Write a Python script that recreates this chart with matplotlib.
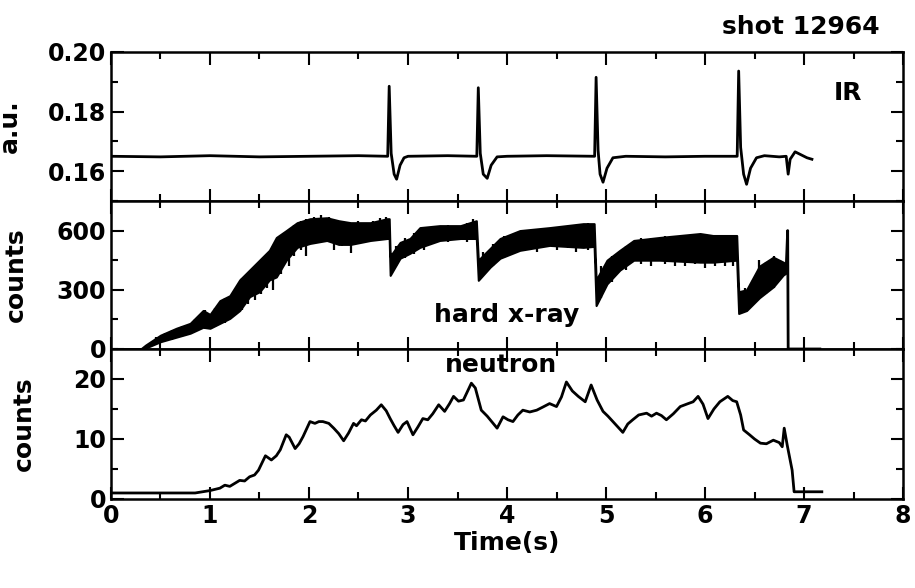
import numpy as np
import matplotlib
matplotlib.use("Agg")
import matplotlib.pyplot as plt
from matplotlib.ticker import MultipleLocator

plt.rcParams['font.family'] = ['DejaVu Sans']
plt.rcParams['font.weight'] = 'bold'

# IR signal (a.u.)
ir_t = [0.00, 0.50, 1.00, 1.50, 2.00, 2.50, 2.795, 2.81, 2.83, 2.86, 2.885, 2.92, 2.96, 3.00,
        3.40, 3.695, 3.71, 3.73, 3.76, 3.80, 3.84, 3.90, 4.00,
        4.40, 4.885, 4.90, 4.92, 4.94, 4.97, 5.01, 5.07, 5.20,
        5.60, 6.00, 6.325, 6.34, 6.36, 6.39, 6.42, 6.46, 6.52, 6.60,
        6.75, 6.82, 6.84, 6.86, 6.91, 6.97, 7.03, 7.08]
ir_v = [0.1650, 0.1648, 0.1652, 0.1648, 0.1650, 0.1652, 0.1650, 0.1885, 0.1660, 0.1590, 0.1573, 0.1620, 0.1645, 0.1650,
        0.1652, 0.1650, 0.1880, 0.1660, 0.1590, 0.1576, 0.1620, 0.1648, 0.1650,
        0.1652, 0.1650, 0.1915, 0.1670, 0.1590, 0.1563, 0.1610, 0.1645, 0.1650,
        0.1648, 0.1650, 0.1650, 0.1936, 0.1680, 0.1590, 0.1556, 0.1610, 0.1645, 0.1652,
        0.1648, 0.1650, 0.1590, 0.1640, 0.1665, 0.1655, 0.1645, 0.1640]

# hard x-ray (counts): lower / upper edge of the noisy band
hx_t = [0.00, 0.30, 0.35, 0.50, 0.66, 0.80, 0.93, 1.00, 1.10, 1.20, 1.30, 1.40, 1.50, 1.60,
        1.67, 1.77, 1.88, 2.01, 2.18, 2.30, 2.42, 2.62, 2.79, 2.81, 2.82, 2.92, 3.02, 3.12,
        3.32, 3.53, 3.69, 3.71, 3.83, 3.93, 4.13, 4.43, 4.77, 4.88, 4.90, 5.01, 5.14, 5.28,
        5.54, 5.95, 6.08, 6.32, 6.34, 6.42, 6.55, 6.69, 6.79, 6.82]
hx_lo = [0, 0, 5, 37, 60, 80, 110, 105, 130, 155, 195, 265, 290, 350,
         365, 450, 515, 535, 550, 530, 530, 550, 560, 560, 373, 460, 485, 515,
         550, 560, 560, 348, 415, 460, 500, 525, 515, 520, 220, 330, 400, 450,
         450, 440, 440, 450, 180, 195, 260, 315, 375, 385]
hx_hi = [0, 0, 20, 70, 105, 130, 195, 175, 245, 270, 350, 400, 450, 500,
         565, 600, 640, 660, 665, 650, 640, 640, 660, 660, 470, 540, 560, 615,
         625, 625, 650, 450, 510, 560, 600, 615, 635, 635, 350, 450, 500, 550,
         565, 585, 575, 575, 290, 300, 420, 465, 440, 430]
# noise spikes sticking out of the band
sp_t = [0.45, 0.55, 0.62, 0.72, 0.85, 0.95, 1.05, 1.15, 1.25, 1.32,
        1.38, 1.45, 1.52, 1.58, 1.64, 1.72, 1.80, 1.85, 1.92, 1.97,
        2.05, 2.12, 2.20, 2.25, 2.33, 2.42, 2.50, 2.57, 2.65, 2.72,
        2.78, 2.88, 2.97, 3.06, 3.16, 3.25, 3.40, 3.48, 3.60, 3.66,
        3.76, 3.86, 3.97, 4.05, 4.20, 4.30, 4.50, 4.62, 4.70, 4.82,
        4.95, 5.06, 5.20, 5.35, 5.45, 5.60, 5.70, 5.80, 5.90, 6.00,
        6.10, 6.20, 6.28, 6.40, 6.48, 6.55, 6.62, 6.70, 6.76]
sp_lo = [25, 40, 45, 60, 85, 100, 110, 130, 170, 200,
         230, 250, 280, 310, 300, 380, 420, 470, 500, 470,
         530, 540, 540, 500, 520, 485, 550, 540, 550, 550,
         560, 420, 460, 480, 500, 540, 540, 550, 540, 560,
         380, 420, 460, 480, 500, 490, 500, 510, 490, 500,
         260, 340, 400, 430, 420, 430, 420, 420, 430, 410,
         420, 420, 420, 190, 230, 260, 280, 310, 360]
sp_hi = [60, 80, 95, 115, 150, 200, 210, 260, 300, 360,
         380, 420, 440, 480, 520, 560, 600, 630, 650, 660,
         670, 680, 670, 650, 650, 640, 650, 640, 650, 665,
         670, 520, 560, 590, 610, 620, 630, 620, 640, 660,
         490, 530, 570, 580, 600, 610, 620, 620, 630, 640,
         420, 470, 520, 560, 560, 570, 560, 560, 580, 570,
         580, 570, 580, 310, 350, 450, 440, 470, 450]
# end of discharge
hx_tail_t = [6.82, 6.835, 6.840, 7.16]
hx_tail_v = [410, 600, 0, 0]

# neutron (counts)
n_t = [0.00, 0.85, 1.00, 1.10, 1.15, 1.20, 1.30, 1.35, 1.40, 1.45,
       1.49, 1.56, 1.62, 1.67, 1.71, 1.77, 1.80, 1.86, 1.90, 1.94,
       2.01, 2.06, 2.10, 2.14, 2.20, 2.25, 2.30, 2.35, 2.40, 2.45,
       2.48, 2.53, 2.57, 2.62, 2.68, 2.73, 2.78, 2.82, 2.86, 2.90,
       2.95, 2.99, 3.05, 3.10, 3.15, 3.20, 3.25, 3.31, 3.37, 3.42,
       3.46, 3.51, 3.56, 3.64, 3.68, 3.74, 3.80, 3.83, 3.90, 3.96,
       4.01, 4.06, 4.11, 4.16, 4.23, 4.30, 4.36, 4.43, 4.50, 4.55,
       4.60, 4.66, 4.72, 4.79, 4.85, 4.91, 4.97, 5.02, 5.07, 5.12,
       5.17, 5.22, 5.27, 5.33, 5.41, 5.46, 5.51, 5.56, 5.61, 5.68,
       5.75, 5.83, 5.88, 5.93, 5.98, 6.03, 6.09, 6.15, 6.23, 6.28,
       6.32, 6.36, 6.39, 6.45, 6.50, 6.56, 6.62, 6.69, 6.75, 6.78,
       6.80, 6.83, 6.88, 6.90, 7.18]
n_v = [1.0, 1.0, 1.4, 1.8, 2.3, 2.1, 3.1, 3.0, 3.7, 4.0,
       4.8, 7.2, 6.5, 7.2, 8.2, 10.7, 10.3, 8.4, 9.2, 10.4,
       12.9, 12.6, 12.9, 12.9, 12.6, 11.8, 10.9, 9.7, 11.0, 12.6,
       12.2, 13.2, 13.0, 14.0, 14.8, 15.7, 14.7, 13.4, 12.2, 11.1,
       12.4, 12.9, 10.7, 12.0, 13.4, 13.2, 14.2, 15.7, 14.6, 15.9,
       17.1, 16.3, 16.5, 19.3, 18.5, 14.8, 13.8, 13.2, 11.8, 13.7,
       13.2, 12.9, 14.0, 14.8, 14.5, 14.8, 15.3, 15.9, 15.4, 17.0,
       19.5, 18.0, 17.1, 16.2, 19.0, 16.5, 14.6, 13.8, 12.9, 12.0,
       11.1, 12.5, 13.2, 14.0, 14.3, 13.8, 14.3, 13.9, 13.2, 14.2,
       15.4, 15.9, 16.2, 17.1, 15.8, 13.4, 15.0, 16.2, 17.1, 16.4,
       16.2, 14.0, 11.5, 10.7, 10.0, 9.3, 9.2, 9.8, 9.4, 8.7,
       11.8, 9.0, 4.8, 1.2, 1.2]

fig = plt.figure(figsize=(9.15, 5.88), dpi=100)
L, W = 0.1213, 0.8656
ax1 = fig.add_axes([L, 0.6582, W, 0.2534])
ax2 = fig.add_axes([L, 0.4065, W, 0.2517])
ax3 = fig.add_axes([L, 0.1514, W, 0.2551])

lw = 2.0
ax1.plot(ir_t, ir_v, color='black', lw=lw)
ax2.fill_between(hx_t, hx_lo, hx_hi, color='black', lw=1.5)
ax2.vlines(sp_t, sp_lo, sp_hi, color='black', lw=1.6)
ax2.plot(hx_tail_t, hx_tail_v, color='black', lw=lw)
ax3.plot(n_t, n_v, color='black', lw=lw)

ax1.set_ylim(0.15, 0.20)
ax1.set_yticks([0.16, 0.18, 0.20])
ax1.yaxis.set_minor_locator(MultipleLocator(0.01))
ax2.set_ylim(0, 750)
ax2.set_yticks([0, 300, 600])
ax2.yaxis.set_minor_locator(MultipleLocator(150))
ax3.set_ylim(0, 25)
ax3.set_yticks([0, 10, 20])
ax3.yaxis.set_minor_locator(MultipleLocator(5))

for ax in (ax1, ax2, ax3):
    ax.set_xlim(0, 8)
    ax.xaxis.set_major_locator(MultipleLocator(1))
    ax.xaxis.set_minor_locator(MultipleLocator(0.5))
    ax.tick_params(which='both', direction='in', top=True, right=True, width=1.5, labelsize=17)
    ax.tick_params(which='major', length=9)
    ax.tick_params(which='minor', length=5)
    for s in ax.spines.values():
        s.set_linewidth(1.8)
    if ax is not ax3:
        ax.tick_params(labelbottom=False)

ax1.set_ylabel('a.u.', fontsize=18, fontweight='bold')
ax2.set_ylabel('counts', fontsize=18, fontweight='bold')
ax3.set_ylabel('counts', fontsize=18, fontweight='bold')
ax1.yaxis.set_label_coords(-0.112, 0.5)
ax2.yaxis.set_label_coords(-0.105, 0.5)
ax3.yaxis.set_label_coords(-0.095, 0.5)
ax3.set_xlabel('Time(s)', fontsize=18, fontweight='bold', labelpad=2)

fig.text(801 / 915, 1 - 27 / 588, 'shot 12964', fontsize=18, fontweight='bold', ha='center', va='center')
fig.text(848 / 915, 1 - 93 / 588, 'IR', fontsize=18, fontweight='bold', ha='center', va='center')
fig.text(507 / 915, 1 - 315 / 588, 'hard x-ray', fontsize=18, fontweight='bold', ha='center', va='center')
fig.text(501 / 915, 1 - 365 / 588, 'neutron', fontsize=18, fontweight='bold', ha='center', va='center')

fig.savefig('out.png', dpi=100)
